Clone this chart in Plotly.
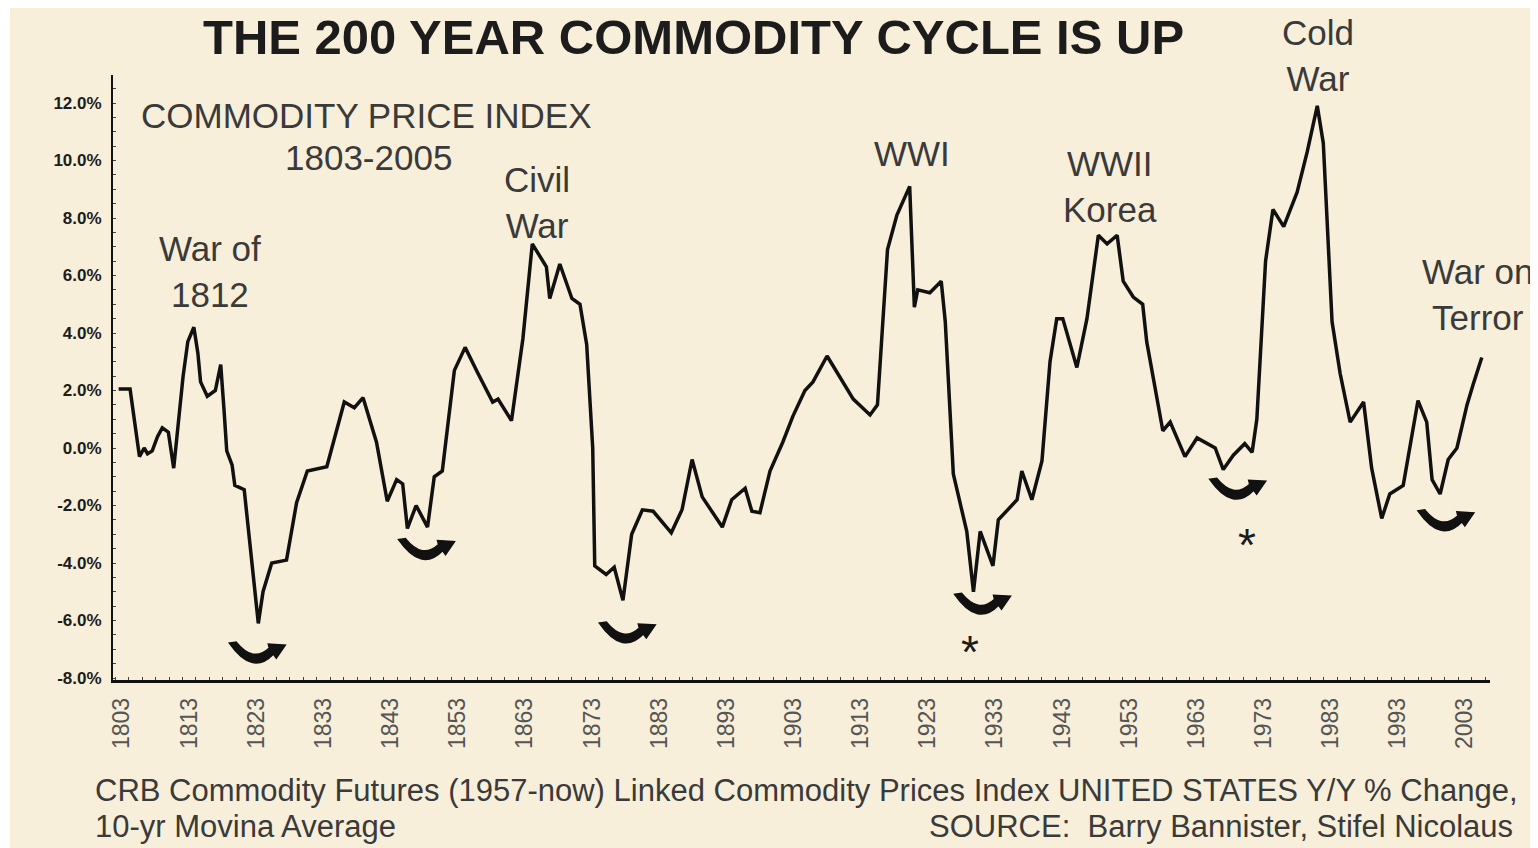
import plotly.graph_objects as go

# ---------------- data ----------------
years = [1802.5, 1804.2, 1805.6, 1806.3, 1806.8, 1807.5, 1808.3, 1809.0, 1809.9, 1810.7,
         1812.1, 1812.8, 1813.7, 1814.3, 1814.7, 1815.7, 1816.9, 1817.7, 1818.2, 1818.6,
         1819.4, 1819.8, 1821.2, 1823.3, 1824.0, 1825.3, 1827.5, 1829.0, 1830.6, 1833.5,
         1836.1, 1837.6, 1838.9, 1840.9, 1842.5, 1843.9, 1844.8, 1845.5, 1846.8, 1848.5,
         1849.5, 1850.7, 1852.5, 1854.1, 1856.0, 1858.2, 1859.0, 1861.0, 1862.7, 1864.1,
         1866.2, 1866.7, 1868.2, 1870.0, 1871.2, 1872.2, 1873.1, 1873.4, 1875.1, 1876.3,
         1877.6, 1878.9, 1880.5, 1882.1, 1884.8, 1886.4, 1887.9, 1889.4, 1892.4, 1893.8,
         1895.8, 1896.8, 1898.0, 1899.5, 1901.4, 1902.9, 1904.7, 1905.9, 1908.0, 1909.5,
         1911.9, 1914.4, 1915.5, 1917.0, 1918.4, 1920.3, 1921.0, 1921.5, 1923.3, 1925.0,
         1925.6, 1926.8, 1928.8, 1929.8, 1930.8, 1932.7, 1933.5, 1936.3, 1937.0, 1938.5,
         1940.0, 1941.2, 1942.2, 1943.1, 1945.2, 1946.7, 1948.4, 1949.7, 1951.2, 1952.1,
         1953.6, 1955.0, 1955.6, 1958.0, 1959.1, 1961.3, 1963.1, 1965.8, 1967.0, 1968.5,
         1970.2, 1971.3, 1972.0, 1973.3, 1974.4, 1976.0, 1978.0, 1979.5, 1981.0, 1981.9,
         1983.2, 1984.4, 1985.9, 1987.9, 1989.1, 1990.6, 1991.8, 1993.8, 1996.0, 1997.3,
         1998.1, 1999.3, 2000.5, 2001.8, 2003.3, 2004.2, 2005.5]
values = [2.05, 2.05, -0.3, 0.0, -0.2, -0.1, 0.4, 0.7, 0.55, -0.7,
          2.5, 3.7, 4.2, 3.3, 2.3, 1.8, 2.0, 2.9, 1.3, -0.1,
          -0.6, -1.3, -1.45, -6.1, -5.0, -4.0, -3.9, -1.9, -0.8, -0.65,
          1.6, 1.4, 1.75, 0.2, -1.85, -1.1, -1.25, -2.8, -2.0, -2.75,
          -1.0, -0.8, 2.7, 3.5, 2.6, 1.6, 1.7, 0.95, 3.8, 7.1,
          6.3, 5.2, 6.4, 5.2, 5.0, 3.6, 0.0, -4.1, -4.4, -4.15,
          -5.3, -3.0, -2.15, -2.2, -2.95, -2.15, -0.4, -1.7, -2.75, -1.8,
          -1.4, -2.2, -2.25, -0.8, 0.2, 1.1, 2.0, 2.3, 3.2, 2.6,
          1.7, 1.15, 1.5, 6.9, 8.1, 9.1, 4.9, 5.5, 5.4, 5.8,
          4.4, -0.9, -2.9, -5.0, -2.9, -4.1, -2.5, -1.8, -0.8, -1.8,
          -0.45, 3.0, 4.5, 4.5, 2.8, 4.5, 7.4, 7.1, 7.4, 5.8,
          5.25, 5.0, 3.7, 0.6, 0.9, -0.3, 0.35, 0.0, -0.75, -0.25,
          0.15, -0.15, 1.0, 6.5, 8.3, 7.7, 8.9, 10.3, 11.9, 10.6,
          4.4, 2.6, 0.9, 1.6, -0.7, -2.45, -1.6, -1.3, 1.65, 0.9,
          -1.1, -1.6, -0.4, 0.0, 1.5, 2.2, 3.15]

tick_years = list(range(1803, 2004, 10))
y_ticks = [-8, -6, -4, -2, 0, 2, 4, 6, 8, 10, 12]
y_tick_labels = [f"{v:.1f}%" for v in y_ticks]

war_labels = ["War of<br>1812", "Civil<br>War", "WWI", "WWII<br>Korea", "Cold<br>War", "War on<br>Terror"]
# positions of the curved "turn" arrows beneath cycle lows (year, value)
cycle_lows = [(1823.0, -7.1), (1848.2, -3.5), (1878.1, -6.4), (1931.0, -5.4), (1969.0, -1.4), (2000.0, -2.5)]
asterisks = [(1929.3, -7.1), (1970.5, -3.37)]

# ---------------- geometry helpers (screen pixel coords) ----------------
OFF = 8                      # page body margin
W, H = 1538 - OFF, 848 - OFF
PL, PR, PT, PB = 113, 1490, 75, 680   # plot area on screen
L, R, T, B = PL - OFF, 1538 - PR, PT - OFF, 848 - PB
PW, PH = PR - PL, PB - PT
PX_PER_YR = 6.715
PX_PER_PCT = 28.75

def px2x(px):
    return 1803 + (px - 122) / PX_PER_YR

def py2y(py):
    return (448 - py) / PX_PER_PCT

def ppx(px):
    return (px - PL) / PW

def ppy(py):
    return (PB - py) / PH

BG = "#F7EFD9"
TXT = "#3a3a3a"
FONT = "Liberation Sans"

fig = go.Figure()
fig.add_trace(go.Scatter(x=years, y=values, mode="lines",
                         line=dict(color="#111111", width=3.5), hoverinfo="skip",
                         showlegend=False))

shapes = []
# thin white strip at left of the original scan
shapes.append(dict(type="rect", xref="paper", yref="paper", x0=ppx(0), x1=ppx(10), y0=ppy(0), y1=ppy(900),
                   fillcolor="white", line=dict(width=0), layer="below"))

# curved arrows (pixel offsets, y down)
arrow_pts = [("M", -27, -9), ("Q", -4, 24, 17, 2), ("L", 20, 6), ("L", 29, -7), ("L", 12, -8),
             ("L", 13, -4), ("Q", -3, 11, -20, -10)]
for cx, cy in cycle_lows:
    parts = []
    for p in arrow_pts:
        cmd = p[0]
        nums = p[1:]
        coords = []
        for i in range(0, len(nums), 2):
            dx, dy = nums[i], nums[i + 1]
            coords.append(f"{cx + dx / PX_PER_YR:.4f},{cy - dy / PX_PER_PCT:.4f}")
        parts.append(cmd + " " + " ".join(coords))
    path = " ".join(parts) + " Z"
    shapes.append(dict(type="path", xref="x", yref="y", path=path,
                       fillcolor="#111111", line=dict(color="#111111", width=1.5)))

ann = []
ann.append(dict(text="<b>THE 200 YEAR COMMODITY CYCLE IS UP</b>", x=ppx(693), y=ppy(37),
                font=dict(size=49, color="#1c1c1c", family=FONT)))
ann.append(dict(text="COMMODITY PRICE INDEX", x=ppx(366), y=ppy(115),
                font=dict(size=35, color=TXT, family=FONT)))
ann.append(dict(text="1803-2005", x=ppx(368), y=ppy(157),
                font=dict(size=35, color=TXT, family=FONT)))
label_pos = [(210, 271), (537, 202), (912, 153), (1110, 187), (1318, 55), (1478, 294)]
for t, (lx, ly) in zip(war_labels, label_pos):
    ann.append(dict(text=t, x=ppx(lx), y=ppy(ly), font=dict(size=35, color=TXT, family=FONT)))
for ax_, ay_ in asterisks:
    ann.append(dict(text="*", x=ax_, y=ay_, xref="x", yref="y",
                    font=dict(size=46, color="#1c1c1c", family=FONT)))
ann.append(dict(text="CRB Commodity Futures (1957-now) Linked Commodity Prices Index UNITED STATES Y/Y % Change,",
                x=ppx(93), y=ppy(790), xanchor="left", font=dict(size=31, color=TXT, family=FONT)))
ann.append(dict(text="10-yr Movina Average", x=ppx(93), y=ppy(826), xanchor="left",
                font=dict(size=31, color=TXT, family=FONT)))
ann.append(dict(text="SOURCE:  Barry Bannister, Stifel Nicolaus", x=ppx(1515), y=ppy(826), xanchor="right",
                font=dict(size=31, color=TXT, family=FONT)))
for a in ann:
    a.setdefault("xref", "paper")
    a.setdefault("yref", "paper")
    a.setdefault("xanchor", "center")
    a["yanchor"] = "middle"
    a["showarrow"] = False

fig.update_layout(
    width=W, height=H,
    margin=dict(l=L, r=R, t=T, b=B),
    paper_bgcolor=BG, plot_bgcolor=BG,
    shapes=shapes, annotations=ann,
    showlegend=False,
    xaxis=dict(range=[px2x(PL), px2x(PR)], tickvals=tick_years, ticktext=[str(v) for v in tick_years],
               tickangle=-90, tickfont=dict(size=23, color="#555555", family=FONT),
               showline=True, linecolor="#111111", linewidth=2.5, showgrid=False, zeroline=False,
               ticks="", ticklabelstandoff=6,
               minor=dict(ticks="inside", ticklen=3, tickcolor="#444444", dtick=2, showgrid=False)),
    yaxis=dict(range=[py2y(PB), py2y(PT)], tickvals=y_ticks, ticktext=y_tick_labels,
               tickfont=dict(size=17, color="#1c1c1c", family=FONT, weight="bold"),
               showline=True, linecolor="#111111", linewidth=2, showgrid=False, zeroline=False,
               ticks="", ticklabelstandoff=6,
               minor=dict(ticks="inside", ticklen=3, tickcolor="#444444", dtick=0.5, showgrid=False)),
)

fig.write_html("out.html")
